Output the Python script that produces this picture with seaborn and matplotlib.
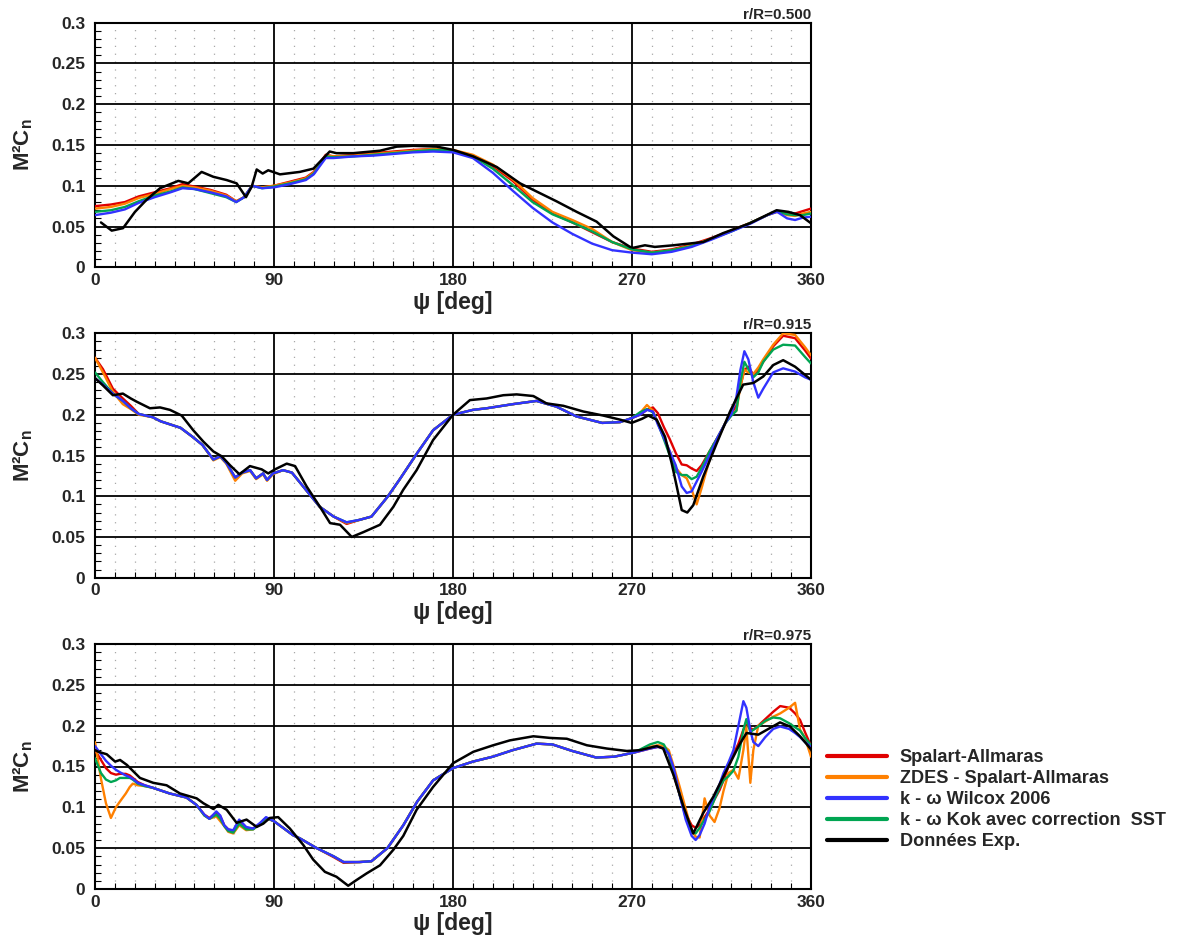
import numpy as np
import matplotlib
matplotlib.use("Agg")
import matplotlib.pyplot as plt
import seaborn as sns
from matplotlib.ticker import MultipleLocator, FixedLocator, FixedFormatter
from matplotlib.lines import Line2D

# ---------------- data ----------------
LABELS = ["Spalart-Allmaras", "ZDES - Spalart-Allmaras", "k - \u03c9 Wilcox 2006",
          "k - \u03c9 Kok avec correction  SST", "Donn\u00e9es Exp."]
COLORS = ["#e00000", "#ff8000", "#3232ff", "#00a552", "#000000"]
PANEL_TITLES = ["r/R=0.500", "r/R=0.915", "r/R=0.975"]
X_TICKS = [0, 90, 180, 270, 360]
Y_TICKS = [0, 0.05, 0.1, 0.15, 0.2, 0.25, 0.3]
Y_TICK_LABELS = ["0", "0.05", "0.1", "0.15", "0.2", "0.25", "0.3"]

# ---- panel 1 : r/R = 0.500 ----
P1_PSI = [0, 8, 15, 22, 30, 38, 44, 50, 58, 66, 71, 75, 79, 84, 90, 98, 106, 110, 116, 120,
          130, 140, 150, 160, 170, 180, 190, 200, 210, 220, 230, 240, 250, 260, 270, 280,
          290, 300, 310, 320, 330, 338, 343, 348, 352, 356, 360]
P1_SA = [0.075, 0.077, 0.080, 0.087, 0.092, 0.097, 0.102, 0.099, 0.095, 0.089, 0.081, 0.086,
         0.100, 0.098, 0.100, 0.105, 0.110, 0.117, 0.138, 0.136, 0.138, 0.140, 0.142, 0.144,
         0.145, 0.143, 0.137, 0.124, 0.106, 0.083, 0.066, 0.055, 0.043, 0.031, 0.023, 0.019,
         0.022, 0.028, 0.036, 0.045, 0.055, 0.064, 0.069, 0.066, 0.066, 0.069, 0.072]
P1_ZDES = [0.072, 0.074, 0.078, 0.085, 0.090, 0.096, 0.100, 0.098, 0.094, 0.088, 0.081, 0.086,
           0.100, 0.098, 0.100, 0.104, 0.109, 0.116, 0.137, 0.136, 0.137, 0.139, 0.141, 0.143,
           0.145, 0.144, 0.138, 0.126, 0.108, 0.085, 0.068, 0.058, 0.047, 0.031, 0.021, 0.018,
           0.021, 0.027, 0.035, 0.045, 0.055, 0.064, 0.068, 0.064, 0.063, 0.066, 0.068]
P1_WILCOX = [0.064, 0.067, 0.071, 0.079, 0.086, 0.092, 0.097, 0.096, 0.092, 0.087, 0.080, 0.086,
             0.100, 0.097, 0.098, 0.102, 0.107, 0.114, 0.134, 0.134, 0.136, 0.137, 0.139, 0.141,
             0.142, 0.141, 0.134, 0.116, 0.094, 0.073, 0.055, 0.041, 0.029, 0.021, 0.018, 0.016,
             0.019, 0.025, 0.034, 0.044, 0.054, 0.064, 0.068, 0.060, 0.058, 0.061, 0.062]
P1_KOK = [0.068, 0.070, 0.074, 0.081, 0.088, 0.093, 0.098, 0.096, 0.091, 0.086, 0.080, 0.086,
          0.100, 0.097, 0.099, 0.103, 0.108, 0.115, 0.136, 0.135, 0.136, 0.138, 0.140, 0.142,
          0.144, 0.143, 0.136, 0.121, 0.101, 0.080, 0.065, 0.055, 0.044, 0.031, 0.022, 0.018,
          0.021, 0.026, 0.035, 0.044, 0.055, 0.064, 0.069, 0.065, 0.064, 0.064, 0.066]
P1_EXP_PSI = [3, 8.4, 14.1, 20.1, 26, 32.7, 41.9, 46.9, 53.6, 59.5, 66.2, 71.2, 75.9, 78.8,
              81.3, 84.3, 87.1, 93, 103, 109.8, 118, 121.4, 129.9, 143.3, 151.7, 160, 171.8,
              180.1, 190.2, 202, 213.7, 222, 232, 242.2, 252.2, 260.6, 269, 270.7, 276.5,
              281.5, 290.8, 305.8, 315.9, 329.3, 342.7, 348.6, 354.5, 360]
P1_EXP = [0.055, 0.045, 0.048, 0.068, 0.083, 0.097, 0.106, 0.103, 0.117, 0.111, 0.107, 0.103,
          0.086, 0.099, 0.120, 0.115, 0.119, 0.114, 0.117, 0.121, 0.142, 0.140, 0.140, 0.143,
          0.148, 0.149, 0.148, 0.144, 0.136, 0.123, 0.103, 0.093, 0.081, 0.068, 0.056, 0.038,
          0.025, 0.024, 0.027, 0.025, 0.027, 0.031, 0.042, 0.054, 0.070, 0.068, 0.064, 0.054]

# ---- panel 2 : r/R = 0.915 ----
P2_PSI = [0, 4, 9, 14, 18, 22, 29, 33, 43, 49, 54, 59.5, 63, 66, 70.5, 74, 78, 81, 84.5, 86.5,
          89.5, 94.5, 99, 106, 113, 120, 126.5, 133, 139, 147, 153, 162, 170, 180, 190, 197,
          210, 222, 232, 242, 255, 264, 270, 274, 277.5, 280.5, 283, 286, 289, 292, 295, 297.5,
          300, 302.5, 305, 309, 313, 317, 320, 322.5, 324.5, 326.5, 328.5, 331, 333.5, 336,
          341, 346, 352, 357, 360]
P2_SA = [0.270, 0.256, 0.232, 0.220, 0.211, 0.201, 0.197, 0.192, 0.184, 0.173, 0.163, 0.145,
         0.149, 0.141, 0.123, 0.129, 0.132, 0.122, 0.128, 0.120, 0.128, 0.132, 0.129, 0.108,
         0.087, 0.075, 0.066, 0.071, 0.075, 0.099, 0.120, 0.153, 0.181, 0.200, 0.206, 0.208,
         0.213, 0.217, 0.210, 0.198, 0.190, 0.191, 0.196, 0.200, 0.206, 0.209, 0.202, 0.185,
         0.170, 0.153, 0.139, 0.138, 0.134, 0.131, 0.138, 0.155, 0.172, 0.190, 0.202, 0.211,
         0.235, 0.255, 0.259, 0.249, 0.255, 0.265, 0.284, 0.297, 0.294, 0.279, 0.269]
P2_ZDES = [0.270, 0.252, 0.228, 0.213, 0.207, 0.200, 0.197, 0.192, 0.184, 0.173, 0.163, 0.144,
           0.148, 0.140, 0.119, 0.128, 0.131, 0.121, 0.127, 0.119, 0.127, 0.132, 0.129, 0.108,
           0.087, 0.075, 0.067, 0.071, 0.075, 0.099, 0.120, 0.153, 0.181, 0.200, 0.206, 0.208,
           0.213, 0.217, 0.210, 0.198, 0.190, 0.191, 0.196, 0.202, 0.212, 0.205, 0.190, 0.172,
           0.155, 0.135, 0.126, 0.122, 0.108, 0.090, 0.110, 0.145, 0.170, 0.190, 0.200, 0.205,
           0.235, 0.255, 0.252, 0.250, 0.258, 0.268, 0.286, 0.300, 0.298, 0.283, 0.273]
P2_WILCOX = [0.245, 0.237, 0.226, 0.217, 0.208, 0.201, 0.197, 0.192, 0.184, 0.173, 0.163, 0.145,
             0.149, 0.141, 0.123, 0.129, 0.132, 0.122, 0.128, 0.120, 0.128, 0.132, 0.129, 0.108,
             0.087, 0.075, 0.068, 0.071, 0.075, 0.099, 0.120, 0.153, 0.181, 0.200, 0.206, 0.208,
             0.213, 0.217, 0.210, 0.198, 0.190, 0.191, 0.196, 0.200, 0.206, 0.204, 0.188, 0.172,
             0.155, 0.138, 0.112, 0.104, 0.106, 0.118, 0.130, 0.150, 0.172, 0.190, 0.201, 0.222,
             0.255, 0.278, 0.268, 0.240, 0.221, 0.232, 0.252, 0.257, 0.253, 0.246, 0.243]
P2_KOK = [0.252, 0.240, 0.226, 0.217, 0.208, 0.201, 0.197, 0.192, 0.184, 0.173, 0.163, 0.145,
          0.149, 0.141, 0.123, 0.129, 0.132, 0.122, 0.128, 0.120, 0.128, 0.132, 0.129, 0.108,
          0.087, 0.075, 0.068, 0.071, 0.075, 0.099, 0.120, 0.153, 0.181, 0.200, 0.206, 0.208,
          0.213, 0.217, 0.210, 0.198, 0.190, 0.191, 0.196, 0.203, 0.207, 0.203, 0.190, 0.170,
          0.150, 0.130, 0.126, 0.126, 0.121, 0.124, 0.135, 0.155, 0.172, 0.190, 0.199, 0.205,
          0.240, 0.265, 0.256, 0.246, 0.252, 0.265, 0.280, 0.286, 0.285, 0.271, 0.263]
P2_EXP_PSI = [0, 4, 9, 14, 18, 21, 27.6, 32.7, 37.7, 43.6, 49.4, 54.5, 59.5, 63.7, 67.9, 72.6,
              77.9, 83.8, 87.1, 90.5, 96.4, 100.6, 106.4, 113.1, 118.2, 123.2, 129.1, 135,
              143.3, 150, 155, 161.7, 170, 180, 188.5, 196.9, 205.3, 212, 220.4, 227, 235.5,
              245.5, 255.6, 264, 269.8, 275, 278.2, 282.4, 286.6, 290, 292.5, 295, 297.8, 300.8,
              305.8, 312.6, 319.3, 325.9, 331, 336, 341, 346, 352, 360]
P2_EXP = [0.245, 0.236, 0.224, 0.226, 0.220, 0.216, 0.208, 0.209, 0.206, 0.199, 0.181, 0.167,
          0.155, 0.149, 0.138, 0.127, 0.137, 0.133, 0.128, 0.133, 0.140, 0.137, 0.112, 0.087,
          0.067, 0.065, 0.050, 0.056, 0.065, 0.087, 0.108, 0.132, 0.169, 0.200, 0.218, 0.220,
          0.224, 0.225, 0.223, 0.214, 0.211, 0.204, 0.199, 0.194, 0.190, 0.195, 0.199, 0.194,
          0.173, 0.140, 0.112, 0.083, 0.080, 0.089, 0.124, 0.165, 0.204, 0.237, 0.239, 0.247,
          0.261, 0.267, 0.259, 0.243]

# ---- panel 3 : r/R = 0.975 ----
P3_PSI = [0, 3, 5.5, 8, 10.5, 12.5, 15.5, 17.5, 19, 21.5, 25, 29, 37.5, 46, 51, 55, 57.5, 61,
          63, 65, 67, 69.5, 72.5, 76, 79.5, 83, 86, 90, 94.5, 99.5, 103, 111.5, 120, 125, 133,
          139, 147, 155, 162, 170, 180, 190, 200, 210, 222, 230, 240, 252, 261, 271, 279, 283,
          286, 288.5, 291, 294, 297, 300, 302, 304, 306.5, 309, 311.5, 314, 316, 318.5, 321,
          323.5, 326, 327.5, 329.5, 331, 333.5, 337, 341, 344.5, 349, 352, 354.5, 357, 360]
P3_SA = [0.170, 0.158, 0.148, 0.142, 0.140, 0.141, 0.141, 0.139, 0.136, 0.131, 0.127, 0.124,
         0.117, 0.112, 0.103, 0.091, 0.087, 0.093, 0.089, 0.078, 0.073, 0.071, 0.082, 0.075,
         0.074, 0.080, 0.087, 0.083, 0.075, 0.066, 0.062, 0.050, 0.039, 0.032, 0.033, 0.034,
         0.050, 0.078, 0.107, 0.133, 0.148, 0.156, 0.162, 0.170, 0.178, 0.177, 0.169, 0.161,
         0.162, 0.167, 0.172, 0.174, 0.174, 0.165, 0.140, 0.115, 0.092, 0.078, 0.075, 0.078,
         0.088, 0.097, 0.110, 0.121, 0.133, 0.150, 0.165, 0.178, 0.195, 0.201, 0.197, 0.195,
         0.200, 0.208, 0.217, 0.224, 0.222, 0.215, 0.207, 0.192, 0.175]
P3_ZDES = [0.180, 0.135, 0.105, 0.087, 0.100, 0.107, 0.117, 0.125, 0.129, 0.127, 0.126, 0.124,
           0.117, 0.112, 0.103, 0.090, 0.086, 0.089, 0.083, 0.077, 0.070, 0.068, 0.078, 0.072,
           0.073, 0.080, 0.087, 0.083, 0.075, 0.066, 0.062, 0.050, 0.040, 0.033, 0.033, 0.034,
           0.050, 0.078, 0.107, 0.133, 0.148, 0.156, 0.162, 0.170, 0.178, 0.177, 0.169, 0.161,
           0.162, 0.167, 0.174, 0.176, 0.175, 0.170, 0.150, 0.125, 0.098, 0.072, 0.064, 0.063,
           0.111, 0.090, 0.082, 0.099, 0.120, 0.142, 0.146, 0.135, 0.170, 0.198, 0.130, 0.170,
           0.200, 0.205, 0.211, 0.215, 0.222, 0.228, 0.195, 0.185, 0.162]
P3_WILCOX = [0.175, 0.165, 0.157, 0.151, 0.146, 0.143, 0.139, 0.137, 0.135, 0.130, 0.127, 0.124,
             0.117, 0.112, 0.103, 0.091, 0.086, 0.095, 0.090, 0.078, 0.073, 0.072, 0.085, 0.076,
             0.074, 0.081, 0.088, 0.083, 0.075, 0.066, 0.062, 0.050, 0.040, 0.033, 0.033, 0.034,
             0.050, 0.078, 0.107, 0.133, 0.148, 0.156, 0.162, 0.170, 0.178, 0.177, 0.169, 0.161,
             0.162, 0.167, 0.172, 0.174, 0.172, 0.166, 0.148, 0.115, 0.085, 0.065, 0.060, 0.066,
             0.080, 0.100, 0.115, 0.128, 0.142, 0.155, 0.170, 0.200, 0.230, 0.222, 0.194, 0.180,
             0.175, 0.186, 0.196, 0.199, 0.196, 0.191, 0.186, 0.180, 0.174]
P3_KOK = [0.160, 0.142, 0.134, 0.131, 0.133, 0.136, 0.136, 0.136, 0.134, 0.129, 0.126, 0.124,
          0.117, 0.112, 0.103, 0.090, 0.086, 0.091, 0.086, 0.077, 0.071, 0.069, 0.080, 0.073,
          0.073, 0.080, 0.087, 0.083, 0.075, 0.066, 0.062, 0.050, 0.040, 0.033, 0.033, 0.034,
          0.050, 0.078, 0.107, 0.133, 0.148, 0.156, 0.162, 0.170, 0.178, 0.177, 0.169, 0.161,
          0.162, 0.167, 0.177, 0.180, 0.177, 0.165, 0.143, 0.115, 0.088, 0.070, 0.068, 0.075,
          0.085, 0.095, 0.110, 0.124, 0.133, 0.138, 0.145, 0.162, 0.195, 0.208, 0.192, 0.195,
          0.199, 0.206, 0.210, 0.209, 0.203, 0.198, 0.194, 0.185, 0.176]
P3_EXP_PSI = [0, 1.7, 5.9, 10.1, 12.6, 16, 22.6, 29.3, 36, 42.7, 51.1, 54.5, 59.5, 62, 66.2,
              71.2, 76.2, 81.3, 84.6, 87.9, 92.1, 98, 104.7, 109.7, 115.6, 121.4, 127.3, 131.5,
              136.5, 143.3, 150, 155, 161.7, 170, 180, 190.2, 200.2, 208.6, 220.4, 228.8, 237.2,
              247.3, 257.3, 267.4, 274, 277.4, 282.4, 285.7, 290.8, 296, 300.8, 305.8, 310.9,
              319.3, 324.3, 327.6, 333.5, 339.3, 344.4, 349.4, 354.5, 360]
P3_EXP = [0.170, 0.168, 0.165, 0.156, 0.158, 0.152, 0.136, 0.130, 0.127, 0.117, 0.111, 0.105,
          0.098, 0.103, 0.097, 0.081, 0.085, 0.076, 0.080, 0.087, 0.088, 0.074, 0.054, 0.036,
          0.021, 0.015, 0.004, 0.011, 0.019, 0.029, 0.048, 0.065, 0.097, 0.125, 0.154, 0.168,
          0.176, 0.182, 0.187, 0.185, 0.184, 0.176, 0.172, 0.169, 0.170, 0.172, 0.175, 0.172,
          0.140, 0.100, 0.068, 0.093, 0.113, 0.154, 0.178, 0.191, 0.189, 0.197, 0.204, 0.199,
          0.187, 0.171]

PANELS = [
    [(P1_PSI, P1_SA), (P1_PSI, P1_ZDES), (P1_PSI, P1_WILCOX), (P1_PSI, P1_KOK), (P1_EXP_PSI, P1_EXP)],
    [(P2_PSI, P2_SA), (P2_PSI, P2_ZDES), (P2_PSI, P2_WILCOX), (P2_PSI, P2_KOK), (P2_EXP_PSI, P2_EXP)],
    [(P3_PSI, P3_SA), (P3_PSI, P3_ZDES), (P3_PSI, P3_WILCOX), (P3_PSI, P3_KOK), (P3_EXP_PSI, P3_EXP)],
]

# ---------------- style ----------------
sns.set_style("white")
plt.rcParams["font.family"] = ["Liberation Sans", "DejaVu Sans"]
plt.rcParams["font.weight"] = "bold"
plt.rcParams["mathtext.fontset"] = "custom"
plt.rcParams["mathtext.rm"] = "Liberation Sans:bold"
plt.rcParams["mathtext.it"] = "Liberation Sans:bold"
plt.rcParams["mathtext.bf"] = "Liberation Sans:bold"

W, H = 1181, 935
fig = plt.figure(figsize=(W / 100, H / 100), dpi=100)
fig.patch.set_facecolor("white")

# axes pixel boxes (left, top, right, bottom)
boxes = [(95, 22.7, 811, 267.3), (95, 333.3, 811, 577.7), (95, 644, 811, 889)]
draw_order = [0, 1, 3, 2, 4]

for k, (l, t, r, b) in enumerate(boxes):
    ax = fig.add_axes([l / W, 1 - b / H, (r - l) / W, (b - t) / H])
    for i in draw_order:
        psi, val = PANELS[k][i]
        sns.lineplot(x=psi, y=val, ax=ax, color=COLORS[i], lw=1.7 if i < 4 else 1.8,
                     sort=False, estimator=None, legend=False, zorder=3 + (i == 4))
    ax.set_xlim(0, 360)
    ax.set_ylim(0, 0.3)
    ax.xaxis.set_major_locator(FixedLocator(X_TICKS))
    ax.yaxis.set_major_locator(FixedLocator(Y_TICKS))
    ax.yaxis.set_major_formatter(FixedFormatter(Y_TICK_LABELS))
    ax.xaxis.set_minor_locator(MultipleLocator(10))
    ax.yaxis.set_minor_locator(MultipleLocator(0.01))
    ax.set_axisbelow(True)
    ax.grid(which="major", color="black", lw=1.3)
    ax.grid(which="minor", axis="x", color="#a8a8a8", lw=0.9, linestyle=(0, (1, 5.3)))
    ax.tick_params(which="both", direction="in", top=False, right=False, bottom=True, left=True)
    ax.tick_params(which="minor", length=4, width=0.8, color="black")
    ax.tick_params(which="major", length=0, labelsize=12.5)
    ax.tick_params(axis="y", which="major", pad=7)
    ax.tick_params(axis="x", which="major", pad=4)
    for lab in ax.get_xticklabels() + ax.get_yticklabels():
        lab.set_fontweight("bold")
    for sp in ax.spines.values():
        sp.set_color("black")
        sp.set_linewidth(1.5)
    ax.set_title(PANEL_TITLES[k], loc="right", fontsize=11, fontweight="bold", pad=3)
    ax.set_xlabel("\u03c8 [deg]", fontsize=16.5, fontweight="bold")
    ax.xaxis.set_label_coords(0.5, -0.095)
    ax.set_ylabel("M\u00b2C$_{n}$", fontsize=16, fontweight="bold")
    ax.yaxis.set_label_coords(-0.084, 0.5)

handles = [Line2D([], [], color=c, lw=3) for c in COLORS]
fig.legend(handles, LABELS, loc="upper left", bbox_to_anchor=(827 / W, 1 - 749 / H),
           frameon=False, handlelength=3.3, handletextpad=0.7,
           labelspacing=0.22, borderaxespad=0, borderpad=0,
           prop={"weight": "bold", "size": 13.1})

fig.savefig("out.png", dpi=100, facecolor="white")
